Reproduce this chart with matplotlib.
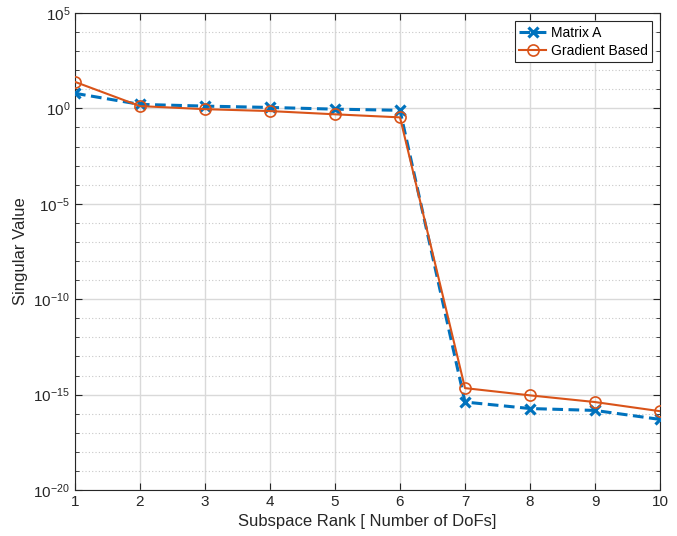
import matplotlib
matplotlib.use("Agg")
import matplotlib.pyplot as plt
import numpy as np
from matplotlib.ticker import FixedLocator, NullFormatter

plt.rcParams['font.family'] = ['Liberation Sans', 'DejaVu Sans']
plt.rcParams['axes.unicode_minus'] = False

rank = [1, 2, 3, 4, 5, 6, 7, 8, 9, 10]
log_matrix_a = [0.79, 0.21, 0.12, 0.05, -0.04, -0.10, -15.39, -15.73, -15.83, -16.30]
log_gradient = [1.39, 0.12, -0.04, -0.14, -0.31, -0.47, -14.66, -15.04, -15.39, -15.87]
matrix_a = [10 ** v for v in log_matrix_a]
gradient = [10 ** v for v in log_gradient]

fig = plt.figure(figsize=(6.77, 5.36), dpi=100)
ax = fig.add_axes([75/677, 1 - 490/536, 585/677, 477/536])

l1, = ax.plot(rank, matrix_a, color='#0072BD', linestyle=(0, (3.5, 1.8)), linewidth=2.2,
              marker='x', markersize=6.5, markeredgewidth=2.3, label='Matrix A', zorder=3)
l2, = ax.plot(rank, gradient, color='#D95319', linestyle='-', linewidth=1.5,
              marker='o', markersize=8, markerfacecolor='none', markeredgewidth=1.2,
              label='Gradient Based', zorder=4)
for ln in (l1, l2):
    ln.set_clip_path(ax.patch)

ax.set_yscale('log')
ax.set_xlim(1, 10)
ax.set_ylim(1e-20, 1e5)
ax.set_xticks(rank)
ax.yaxis.set_major_locator(FixedLocator([10.0 ** e for e in range(-20, 6, 5)]))
ax.yaxis.set_minor_locator(FixedLocator([10.0 ** e for e in range(-20, 6) if e % 5 != 0]))
ax.yaxis.set_minor_formatter(NullFormatter())

ax.grid(True, which='major', color='#d9d9d9', linewidth=1.0, linestyle='-')
ax.grid(True, which='minor', axis='y', color='#c8c8c8', linewidth=0.8, linestyle=(0, (1, 2)))
ax.set_axisbelow(True)

ax.tick_params(which='both', direction='in', top=True, right=True, labelsize=11, colors='#262626')
ax.tick_params(which='major', length=5)
ax.tick_params(which='minor', length=3)
for s in ax.spines.values():
    s.set_color('#262626')
    s.set_linewidth(0.8)

ax.set_xlabel('Subspace Rank [ Number of DoFs]', fontsize=12, color='#262626')
ax.set_ylabel('Singular Value', fontsize=12, color='#262626')

leg = ax.legend(loc='upper right', fontsize=10, fancybox=False, framealpha=1,
                edgecolor='#262626', borderpad=0.3, handlelength=2.0, handletextpad=0.3,
                borderaxespad=0.6, labelspacing=0.3)
leg.get_frame().set_linewidth(0.8)

fig.savefig('out.png', dpi=100)
